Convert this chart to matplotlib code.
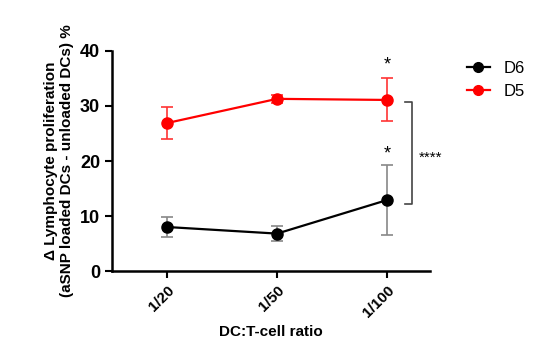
import matplotlib
matplotlib.use("Agg")
import matplotlib.pyplot as plt
from matplotlib.lines import Line2D

categories = ["1/20", "1/50", "1/100"]
d6_mean = [8.0, 6.8, 12.9]
d6_err = [1.9, 1.4, 6.3]
d5_mean = [26.9, 31.3, 31.1]
d5_err = [2.9, 0.7, 3.9]
yticks = [0, 10, 20, 30, 40]

plt.rcParams['font.family'] = ['Liberation Sans', 'DejaVu Sans']

fig = plt.figure(figsize=(5.5, 3.5), dpi=100)
ax = fig.add_axes([0.2036, 0.2257, 0.5782, 0.6286])
x = list(range(len(categories)))

ax.errorbar(x, d6_mean, yerr=d6_err, color='black', ecolor='#888888', elinewidth=1.2,
            capsize=4, capthick=1.2, marker='o', markersize=8, lw=1.6)
ax.errorbar(x, d5_mean, yerr=d5_err, color='#ff0000', ecolor='#ff3333', elinewidth=1.2,
            capsize=4, capthick=1.2, marker='o', markersize=8, lw=1.6)

ax.set_xlim(-0.5, 2.39)
ax.set_ylim(0, 40)
ax.set_yticks(yticks)
ax.set_xticks(x)
ax.set_xticklabels(categories, rotation=45, ha='right', rotation_mode='anchor',
                   fontsize=11, fontweight='bold')
for lab in ax.get_yticklabels():
    lab.set_fontsize(13)
    lab.set_fontweight('bold')
for s in ['top', 'right']:
    ax.spines[s].set_visible(False)
for s in ['left', 'bottom']:
    ax.spines[s].set_linewidth(1.8)
ax.tick_params(width=1.5, length=5)

ax.set_xlabel('DC:T-cell ratio', fontsize=11, fontweight='bold')
ax.set_ylabel('\u0394 Lymphocyte proliferation\n(aSNP loaded DCs - unloaded DCs) %',
              fontsize=11, fontweight='bold', labelpad=4)

# significance annotations
ax.text(2, 37.5, '*', ha='center', va='center', fontsize=13)
ax.text(2, 21.2, '*', ha='center', va='center', fontsize=13)
ax.plot([2.16, 2.23, 2.23, 2.16], [30.8, 30.8, 12.1, 12.1], color='#444444', lw=1.2, clip_on=False)
ax.text(2.29, 20.5, '****', ha='left', va='center', fontsize=11)

handles = [Line2D([], [], color='black', marker='o', markersize=7, lw=1.6),
           Line2D([], [], color='#ff0000', marker='o', markersize=7, lw=1.6)]
ax.legend(handles, ['D6', 'D5'], loc='upper left', bbox_to_anchor=(1.094, 0.985), frameon=False,
          fontsize=12, handlelength=1.4, handletextpad=0.8, borderaxespad=0, labelspacing=0.5)

fig.savefig('out.png', dpi=100)
